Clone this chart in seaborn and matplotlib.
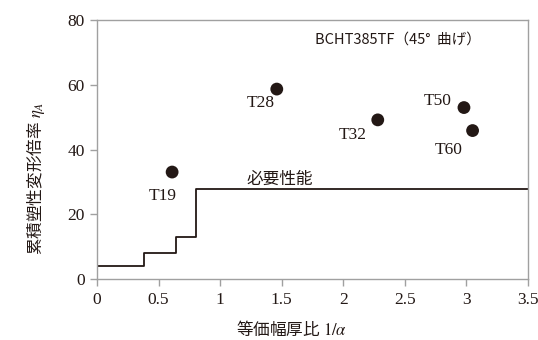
import matplotlib
matplotlib.use("Agg")
import matplotlib.pyplot as plt
import seaborn as sns
import pandas as pd

# test specimens: equivalent width-thickness ratio vs cumulative plastic deformation ratio
names = ["T19", "T28", "T32", "T50", "T60"]
inv_alpha = [0.61, 1.46, 2.28, 2.98, 3.05]
eta = [33.1, 58.7, 49.2, 53.0, 45.9]

# required performance (step line)
req_x = [0, 0.38, 0.64, 0.8, 3.5]
req_y = [4, 8, 13, 28, 28]

# label offsets (data units) for each specimen name
lab_dx = [-0.078, -0.128, -0.20, -0.214, -0.193]
lab_dy = [-7.4, -4.2, -4.7, 2.0, -6.0]

sns.set_theme(style="white")
plt.rcParams['font.family'] = ['Liberation Serif', 'Noto Sans CJK JP', 'DejaVu Sans']
plt.rcParams['mathtext.fontset'] = 'stix'
jp = ['Noto Sans CJK JP', 'DejaVu Sans']

df = pd.DataFrame({"x": inv_alpha, "y": eta, "name": names})
req = pd.DataFrame({"x": req_x, "y": req_y})

fig = plt.figure(figsize=(5.38, 3.4), dpi=100)
ax = fig.add_axes([0.1803, 0.1785, 0.8011, 0.7625])

sns.lineplot(data=req, x="x", y="y", drawstyle="steps-post", color="#231815",
             lw=1.3, ax=ax, estimator=None, sort=False)
sns.scatterplot(data=df, x="x", y="y", color="#231815", s=85, edgecolor="none",
                ax=ax, zorder=3)

for n, x, y, dx, dy in zip(names, inv_alpha, eta, lab_dx, lab_dy):
    ax.text(x + dx, y + dy, n, ha="center", va="center", fontsize=12.5,
            family=['Liberation Serif'], color="#231815")

ax.text(1.21, 30.8, "必要性能", family=jp, fontsize=12, va="center", color="#231815")
ax.text(2.445, 73.9, "BCHT385TF（45°  曲げ）", family=jp, fontsize=10.5, ha="center",
        va="center", color="#231815")

ax.set_xlim(0, 3.5)
ax.set_ylim(0, 80)
ax.set_xticks([0, 0.5, 1, 1.5, 2, 2.5, 3, 3.5])
ax.set_xticklabels(["0", "0.5", "1", "1.5", "2", "2.5", "3", "3.5"])
ax.set_yticks([0, 20, 40, 60, 80])

for s in ax.spines.values():
    s.set_color("#a0a0a0")
    s.set_linewidth(1.0)
ax.tick_params(axis="both", which="major", direction="out", length=5, width=1,
               color="#a0a0a0", labelsize=12.5, labelcolor="#231815", pad=4)
ax.tick_params(axis="x", bottom=True)
ax.tick_params(axis="y", left=True)

ax.set_xlabel("等価幅厚比 $1/\\alpha$", family=jp, fontsize=12, color="#231815")
ax.set_ylabel("累積塑性変形倍率 $\\eta_A$", family=jp, fontsize=12, color="#231815")
ax.xaxis.set_label_coords(0.452, -0.155)
ax.yaxis.set_label_coords(-0.116, 0.39)

fig.savefig("out.png", dpi=100)
